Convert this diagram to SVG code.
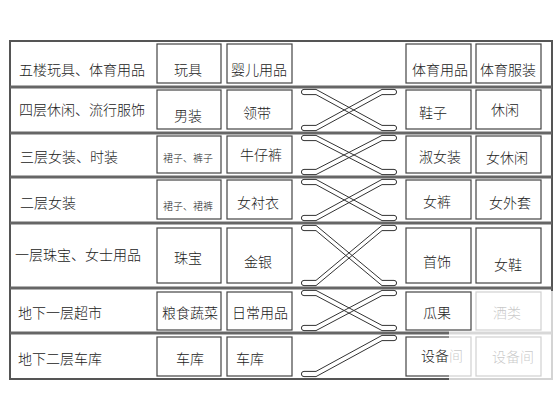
<svg xmlns="http://www.w3.org/2000/svg" width="560" height="420" viewBox="0 0 560 420">
<style>
text{font-family:"Noto Sans CJK SC","Noto Sans CJK JP",sans-serif;font-size:14px;fill:#222;font-weight:300}
.c{text-anchor:middle}
.s{font-size:10px}
.box{fill:none;stroke:#444;stroke-width:1.2}
.row{stroke:#666;stroke-width:3}
.esc{fill:#fff;fill-opacity:0;stroke:#333;stroke-width:1}
</style>
<rect width="560" height="420" fill="#fff"/>
<g id="frame">
<rect x="10" y="41" width="542" height="338" fill="none" stroke="#555" stroke-width="2"/>
<line class="row" x1="10" y1="87" x2="552" y2="87"/>
<line class="row" x1="10" y1="133" x2="552" y2="133"/>
<line class="row" x1="10" y1="177" x2="552" y2="177"/>
<line class="row" x1="10" y1="223" x2="552" y2="223"/>
<line class="row" x1="10" y1="288" x2="552" y2="288"/>
<line class="row" x1="10" y1="333" x2="552" y2="333"/>
</g>
<g id="connectors">
<path class="esc" d="M304 89.4L316 89.4L382 125.4L394 125.4A2.6 2.6 0 0 1 394 130.6L382 130.6L316 94.6L304 94.6A2.6 2.6 0 0 1 304 89.4Z"/>
<path class="esc" d="M394 89.4L382 89.4L316 125.4L304 125.4A2.6 2.6 0 0 0 304 130.6L316 130.6L382 94.6L394 94.6A2.6 2.6 0 0 0 394 89.4Z"/>
<path class="esc" d="M304 135.4L316 135.4L382 169.4L394 169.4A2.6 2.6 0 0 1 394 174.6L382 174.6L316 140.6L304 140.6A2.6 2.6 0 0 1 304 135.4Z"/>
<path class="esc" d="M394 135.4L382 135.4L316 169.4L304 169.4A2.6 2.6 0 0 0 304 174.6L316 174.6L382 140.6L394 140.6A2.6 2.6 0 0 0 394 135.4Z"/>
<path class="esc" d="M304 179.4L316 179.4L382 215.4L394 215.4A2.6 2.6 0 0 1 394 220.6L382 220.6L316 184.6L304 184.6A2.6 2.6 0 0 1 304 179.4Z"/>
<path class="esc" d="M394 179.4L382 179.4L316 215.4L304 215.4A2.6 2.6 0 0 0 304 220.6L316 220.6L382 184.6L394 184.6A2.6 2.6 0 0 0 394 179.4Z"/>
<path class="esc" d="M304 225.4L316 225.4L382 280.4L394 280.4A2.6 2.6 0 0 1 394 285.6L382 285.6L316 230.6L304 230.6A2.6 2.6 0 0 1 304 225.4Z"/>
<path class="esc" d="M394 225.4L382 225.4L316 280.4L304 280.4A2.6 2.6 0 0 0 304 285.6L316 285.6L382 230.6L394 230.6A2.6 2.6 0 0 0 394 225.4Z"/>
<path class="esc" d="M304 290.4L316 290.4L382 325.4L394 325.4A2.6 2.6 0 0 1 394 330.6L382 330.6L316 295.6L304 295.6A2.6 2.6 0 0 1 304 290.4Z"/>
<path class="esc" d="M394 290.4L382 290.4L316 325.4L304 325.4A2.6 2.6 0 0 0 304 330.6L316 330.6L382 295.6L394 295.6A2.6 2.6 0 0 0 394 290.4Z"/>
<path class="esc" d="M394 335.4L382 335.4L316 371.4L304 371.4A2.6 2.6 0 0 0 304 376.6L316 376.6L382 340.6L394 340.6A2.6 2.6 0 0 0 394 335.4Z"/>
</g>
<g id="floor5">
<text x="19" y="75">五楼玩具、体育用品</text>
<rect class="box" x="157" y="44" width="64" height="39"/><text class="c" x="188" y="75">玩具</text>
<rect class="box" x="227" y="44" width="65" height="39"/><text class="c" x="259" y="75">婴儿用品</text>
<rect class="box" x="406" y="44" width="65" height="39"/><text class="c" x="440" y="75">体育用品</text>
<rect class="box" x="476" y="44" width="65" height="39"/><text class="c" x="508" y="75">体育服装</text>
</g>
<g id="floor4">
<text x="19" y="115">四层休闲、流行服饰</text>
<rect class="box" x="157" y="90" width="64" height="39"/><text class="c" x="188" y="121">男装</text>
<rect class="box" x="227" y="90" width="65" height="39"/><text class="c" x="257" y="118">领带</text>
<rect class="box" x="406" y="90" width="65" height="39"/><text class="c" x="433" y="118">鞋子</text>
<rect class="box" x="476" y="90" width="65" height="39"/><text class="c" x="505" y="115">休闲</text>
</g>
<g id="floor3">
<text x="20" y="162">三层女装、时装</text>
<rect class="box" x="157" y="136" width="64" height="37"/><text class="c s" x="188" y="162">裙子、裤子</text>
<rect class="box" x="227" y="136" width="65" height="37"/><text class="c" x="261" y="160">牛仔裤</text>
<rect class="box" x="406" y="136" width="65" height="37"/><text class="c" x="440" y="162">淑女装</text>
<rect class="box" x="476" y="136" width="65" height="37"/><text class="c" x="507" y="163">女休闲</text>
</g>
<g id="floor2">
<text x="20" y="208">二层女装</text>
<rect class="box" x="157" y="180" width="64" height="39"/><text class="c s" x="188" y="210">裙子、裙裤</text>
<rect class="box" x="227" y="180" width="65" height="39"/><text class="c" x="258" y="208">女衬衣</text>
<rect class="box" x="406" y="180" width="65" height="39"/><text class="c" x="437" y="207">女裤</text>
<rect class="box" x="476" y="180" width="65" height="39"/><text class="c" x="510" y="208">女外套</text>
</g>
<g id="floor1">
<text x="15" y="260">一层珠宝、女士用品</text>
<rect class="box" x="157" y="228" width="64" height="55"/><text class="c" x="188" y="263">珠宝</text>
<rect class="box" x="227" y="228" width="65" height="55"/><text class="c" x="258" y="267">金银</text>
<rect class="box" x="406" y="228" width="65" height="55"/><text class="c" x="437" y="267">首饰</text>
<rect class="box" x="476" y="228" width="65" height="55"/><text class="c" x="508" y="270">女鞋</text>
</g>
<g id="basement1">
<text x="18" y="318">地下一层超市</text>
<rect class="box" x="157" y="292" width="64" height="38"/><text class="c" x="190" y="318">粮食蔬菜</text>
<rect class="box" x="227" y="292" width="65" height="38"/><text class="c" x="260" y="318">日常用品</text>
<rect class="box" x="406" y="292" width="65" height="38"/><text class="c" x="437" y="318">瓜果</text>
<rect class="box" x="476" y="292" width="65" height="38"/><text class="c" x="507" y="318">酒类</text>
</g>
<g id="basement2">
<text x="18" y="364">地下二层车库</text>
<rect class="box" x="157" y="337" width="64" height="39"/><text class="c" x="190" y="364">车库</text>
<rect class="box" x="227" y="337" width="65" height="39"/><text class="c" x="250" y="364">车库</text>
<rect class="box" x="406" y="337" width="65" height="39"/><text class="c" x="442" y="361">设备间</text>
<rect class="box" x="476" y="337" width="65" height="39"/><text class="c" x="513" y="362">设备间</text>
</g>
<path d="M472 291H556V384H449V331H472Z" fill="#fff" fill-opacity="0.75"/>
</svg>
